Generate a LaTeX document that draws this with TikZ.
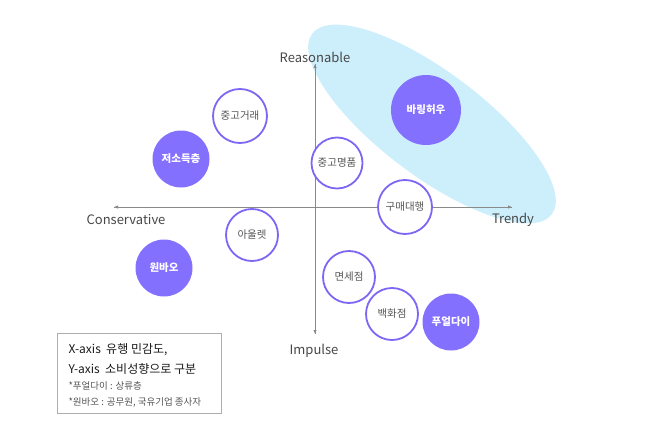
\documentclass[tikz,border=0pt]{standalone}
\usepackage{fontspec}
\setmainfont{Noto Sans CJK KR}
\usetikzlibrary{arrows.meta}
\definecolor{axisgray}{HTML}{8A8A8A}
\definecolor{txtgray}{HTML}{555555}
\definecolor{purp}{HTML}{8470FF}
\definecolor{purpline}{HTML}{7E66F5}
\definecolor{skyfill}{HTML}{CDEFFC}
\tikzset{
  filledc/.style={circle, fill=purp, text=white, font=\fontsize{10.5}{12}\selectfont\bfseries, minimum size=#1, inner sep=0pt},
  outlc/.style={circle, draw=purpline, line width=1.8pt, fill=white, text=txtgray, font=\fontsize{10.5}{12}\selectfont, minimum size=#1, inner sep=0pt},
  axislabel/.style={text=black!72, font=\fontsize{13}{15}\selectfont},
  axisline/.style={draw=axisgray, line width=0.8pt, -{Latex[length=4pt,width=3.5pt]}},
  legmain/.style={anchor=west, text=black!90, font=\fontsize{12}{14}\selectfont},
  legsmall/.style={anchor=west, text=txtgray, font=\fontsize{9.5}{11}\selectfont},
}
\begin{document}
\begin{tikzpicture}[x=1pt,y=-1pt]
\useasboundingbox (0,0) rectangle (647,436);
% highlighted ellipse
\fill[skyfill] (432,124) ellipse [x radius=150, y radius=52, rotate=-37];
% axes
\coordinate (O) at (315,207);
\coordinate (top) at (315,64);
\coordinate (bot) at (315,334);
\coordinate (left) at (114,207);
\coordinate (right) at (512,207);
\draw[axisline] (bot) -- (top);
\draw[axisline] (top) -- (bot);
\draw[axisline] (right) -- (left);
\draw[axisline] (left) -- (right);
\node[axislabel] (reas) at (315,57) {Reasonable};
\node[axislabel] (trendy) at (513,220) {Trendy};
\node[axislabel] (cons) at (126,220) {Conservative};
\node[axislabel] (imp) at (314,351) {Impulse};
% circles
\node[outlc=54pt] (c1) at (240,116) {중고거래};
\node[filledc=57pt] (c2) at (181,159) {저소득층};
\node[outlc=51pt] (c3) at (337,163) {중고명품};
\node[filledc=70pt] (c4) at (426,110) {바링허우};
\node[outlc=54pt] (c5) at (405,207) {구매대행};
\node[outlc=52pt] (c6) at (252,235) {아울렛};
\node[filledc=57pt] (c7) at (164,268) {원바오};
\node[outlc=52pt] (c8) at (349,277) {면세점};
\node[outlc=52pt] (c9) at (392,314) {백화점};
\node[filledc=57pt] (c10) at (451,322) {푸얼다이};
% legend
\node[draw=axisgray!70, line width=0.6pt, anchor=north west, minimum width=164pt, minimum height=80pt, inner sep=0pt] (leg) at (57,333) {};
\node[legmain] (l1) at (65,350) {X-axis\ \ 유행 민감도,};
\node[legmain] (l2) at (65,369) {Y-axis\ \ 소비성향으로 구분};
\node[legsmall] (l3) at (65,386) {*푸얼다이 : 상류층};
\node[legsmall] (l4) at (65,402) {*원바오 : 공무원, 국유기업 종사자};
\end{tikzpicture}
\end{document}
